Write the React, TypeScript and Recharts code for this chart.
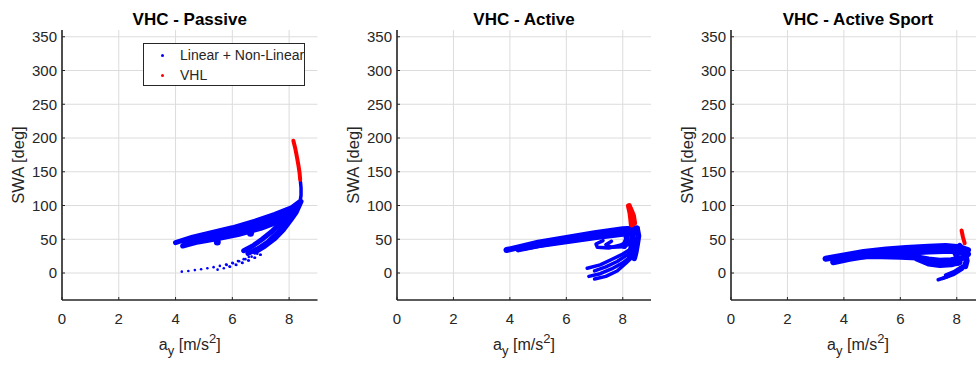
import React from "react";
import {
  ScatterChart,
  Scatter,
  XAxis,
  YAxis,
  CartesianGrid,
  Legend,
  Label,
} from "recharts";

type Pt = [number, number];

const xTicks = [0, 2, 4, 6, 8];
const yTicks = [0, 50, 100, 150, 200, 250, 300, 350];
const xDomain: [number, number] = [0, 9];
const yDomain: [number, number] = [-40, 360];
const titles = ["VHC - Passive", "VHC - Active", "VHC - Active Sport"];
const legendLabels = ["Linear + Non-Linear", "VHL"];

// VHC - Passive
const passiveBand: Pt[][] = [
  [[4.0, 45], [4.6, 53], [5.3, 60], [6.0, 67], [6.8, 77], [7.5, 87], [8.1, 97], [8.35, 105]],
  [[4.25, 40], [4.8, 46], [5.5, 51], [6.2, 57], [7.0, 66], [7.7, 77], [8.2, 92], [8.35, 102]],
  [[4.3, 44], [5.0, 51], [5.8, 57], [6.5, 63], [7.2, 72], [7.9, 84], [8.3, 98]],
  [[4.6, 49], [5.4, 56], [6.2, 64], [6.9, 73], [7.6, 83], [8.1, 93], [8.35, 104]],
  [[8.42, 106], [8.25, 90], [8.05, 78], [7.8, 64], [7.5, 51], [7.15, 40], [6.8, 31]],
  [[8.35, 102], [8.1, 86], [7.85, 72], [7.55, 58], [7.25, 46], [6.9, 36], [6.55, 29]],
  [[8.3, 100], [8.0, 86], [7.7, 74], [7.38, 61], [7.05, 50], [6.75, 41], [6.4, 33]],
];
const passiveThin: Pt[][] = [
  [[8.38, 104], [8.42, 115], [8.42, 126], [8.4, 135]],
];
const passiveDots: Pt[][] = [
  [[4.22, 2], [4.45, 3], [4.68, 4.3], [4.9, 5.6], [5.12, 7], [5.34, 8.7], [5.56, 10.5], [5.78, 12.6], [6.0, 15], [6.2, 17.6], [6.4, 20.5], [6.58, 23.6]],
  [[5.48, 5], [5.7, 7], [5.92, 9.3], [6.14, 12], [6.36, 15], [6.58, 18.5], [6.8, 22.5], [7.0, 27]],
  [[5.8, 12], [6.02, 14.5], [6.24, 17.3], [6.46, 20.5], [6.68, 24.2], [6.88, 28.5]],
  [[5.9, 9.5], [6.12, 12.2], [6.34, 15.2], [6.56, 18.6], [6.78, 22.6], [6.98, 27]],
];
const passiveBlobs: Pt[] = [[5.47, 46], [6.64, 59]];
const passiveRed: Pt[][] = [
  [[8.15, 196], [8.22, 184], [8.28, 171], [8.33, 159], [8.37, 148], [8.39, 138]],
];

// VHC - Active
const activeBand: Pt[][] = [
  [[3.88, 34], [4.3, 38], [5.0, 45], [6.0, 52], [7.0, 59], [8.0, 65], [8.5, 66]],
  [[4.3, 35], [5.0, 41], [6.0, 47], [7.0, 53], [8.0, 58], [8.5, 60]],
  [[4.45, 37], [5.5, 45], [6.5, 51], [7.5, 57], [8.3, 62]],
  [[8.5, 66], [8.55, 55], [8.5, 42], [8.45, 30], [8.4, 22]],
  [[8.3, 64], [8.35, 50], [8.3, 36], [8.25, 26]],
  [[8.1, 62], [8.15, 50], [8.05, 40]],
];
const activeThin: Pt[][] = [
  [[7.3, 48], [7.05, 43], [7.1, 38], [7.5, 37], [7.9, 41], [8.2, 47]],
  [[7.6, 47], [7.4, 42], [7.6, 38], [8.0, 39], [8.3, 44]],
  [[6.74, 7], [7.2, 12], [7.6, 20], [8.0, 28], [8.3, 36]],
  [[6.8, -5], [7.2, -1], [7.6, 6], [8.0, 15], [8.3, 25]],
  [[7.0, -9], [7.4, -5], [7.8, 3], [8.1, 14], [8.35, 24]],
  [[7.0, 3], [7.4, 9], [7.8, 17], [8.2, 28]],
];
const activeRed: Pt[][] = [
  [[8.22, 99], [8.27, 90], [8.3, 80], [8.32, 72]],
  [[8.26, 95], [8.36, 85], [8.4, 74]],
];

// VHC - Active Sport
const sportBand: Pt[][] = [
  [[3.35, 21], [4.0, 26], [4.7, 31], [5.5, 35], [6.2, 37], [7.0, 39], [7.6, 40], [8.1, 38], [8.4, 34]],
  [[3.62, 16], [4.2, 21], [4.8, 25], [5.5, 28], [6.2, 30], [7.0, 32], [7.8, 33], [8.4, 28]],
  [[4.3, 24], [5.0, 25], [6.0, 24], [6.6, 23], [7.0, 20], [7.4, 18], [7.8, 19], [8.2, 22]],
  [[6.6, 21], [7.0, 14], [7.4, 12], [7.8, 13], [8.1, 16]],
  [[8.1, 40], [8.3, 30], [8.35, 18], [8.3, 10]],
  [[7.9, 35], [8.0, 25], [8.05, 15]],
];
const sportThin: Pt[][] = [
  [[7.34, -10], [7.7, -5], [8.0, 3], [8.3, 12]],
  [[7.6, -3], [7.9, 2], [8.2, 10]],
  [[7.5, -8], [7.9, -2], [8.2, 6]],
];
const sportRed: Pt[][] = [[[8.17, 63], [8.22, 53], [8.28, 44]]];

const BLUE = "#0000ff";
const RED = "#ff0000";
const INK = "#262626";
const GRID = "#dcdcdc";
const FONT = "'Liberation Sans', Arial, sans-serif";
const PLOT_H = 270;
const Y_AXIS_W = 40;
const X_AXIS_H = 30;

const toData = (pts: Pt[]) => pts.map(([x, y]) => ({ x, y }));
const noShape = () => <g />;
const dotShape = (p: any) => <circle cx={p.cx} cy={p.cy} r={1.3} fill={BLUE} />;
const blobShape = (p: any) => <circle cx={p.cx} cy={p.cy} r={3.5} fill={BLUE} />;

// grid only at the tick values (no border lines at the top / right edge)
const hGrid = ({ offset }: any) =>
  yTicks.map((t) => offset.top + ((yDomain[1] - t) / (yDomain[1] - yDomain[0])) * offset.height);
const vGrid = ({ offset }: any) =>
  xTicks.map((t) => offset.left + ((t - xDomain[0]) / (xDomain[1] - xDomain[0])) * offset.width);

const xLabel = (props: any) => {
  const { x, y, width } = props.viewBox;
  return (
    <text x={x + width / 2} y={y + 50} textAnchor="middle" fontSize={16} fill={INK} fontFamily={FONT}>
      a<tspan dy={5} fontSize={13}>y</tspan>
      <tspan dy={-5}> [m/s</tspan>
      <tspan dy={-7} fontSize={13}>2</tspan>
      <tspan dy={7}>]</tspan>
    </text>
  );
};

const titleLabel = (title: string) => (props: any) => {
  const { x, y, width } = props.viewBox;
  return (
    <text x={x + width / 2} y={y - PLOT_H - 5} textAnchor="middle" fontSize={17} fontWeight="bold" fill="#000" fontFamily={FONT}>
      {title}
    </text>
  );
};

const yLabel = (props: any) => {
  const { x, y, width, height } = props.viewBox;
  const cx = x + width - 44;
  const cy = y + height / 2;
  return (
    <text x={cx} y={cy} transform={`rotate(-90 ${cx} ${cy})`} textAnchor="middle" dominantBaseline="central" fontSize={16.5} fill={INK} fontFamily={FONT}>
      SWA [deg]
    </text>
  );
};

const legendColors = [BLUE, RED];
const renderLegend = () => (
  <div
    style={{
      width: 162,
      height: 43,
      border: `1.5px solid ${INK}`,
      background: "#fff",
      boxSizing: "border-box",
      fontFamily: FONT,
      fontSize: 14,
      color: INK,
      position: "relative",
    }}
  >
    {legendLabels.map((l, i) => (
      <div key={l} style={{ position: "absolute", left: 0, top: 1 + i * 20, height: 20, display: "flex", alignItems: "center", whiteSpace: "nowrap" }}>
        <span style={{ width: 3, height: 3, borderRadius: 2, background: legendColors[i], marginLeft: 17, marginRight: 16 }} />
        <span>{l}</span>
      </div>
    ))}
  </div>
);

type PanelProps = {
  title: string;
  left: number;
  width: number;
  ml: number;
  mr: number;
  band: Pt[][];
  bandWidth: number;
  thin: Pt[][];
  dots?: Pt[][];
  blobs?: Pt[];
  red: Pt[][];
  redWidth: number;
  legend?: boolean;
};

function Panel(p: PanelProps) {
  const axisStyle = { fill: INK, fontSize: 15, fontFamily: FONT };
  return (
    <div style={{ position: "absolute", left: p.left, top: 0 }}>
      <ScatterChart
        width={p.width}
        height={365}
        margin={{ top: 30, bottom: 65 - X_AXIS_H, left: p.ml - Y_AXIS_W, right: p.mr }}
      >
        <CartesianGrid
          stroke={GRID}
          strokeWidth={1}
          horizontalCoordinatesGenerator={hGrid}
          verticalCoordinatesGenerator={vGrid}
        />
        <XAxis
          type="number"
          dataKey="x"
          domain={xDomain}
          ticks={xTicks}
          interval={0}
          allowDataOverflow
          height={X_AXIS_H}
          tick={axisStyle}
          tickSize={-3}
          tickMargin={16}
          tickLine={{ stroke: INK }}
          axisLine={{ stroke: INK, strokeWidth: 1.6 }}
        >
          <Label content={xLabel} />
          <Label content={titleLabel(p.title)} />
        </XAxis>
        <YAxis
          type="number"
          dataKey="y"
          domain={yDomain}
          ticks={yTicks}
          interval={0}
          allowDataOverflow
          width={Y_AXIS_W}
          tick={axisStyle}
          tickSize={-3}
          tickMargin={8}
          tickLine={{ stroke: INK }}
          axisLine={{ stroke: INK, strokeWidth: 1.6 }}
        >
          <Label content={yLabel} />
        </YAxis>
        {p.band.map((t, i) => (
          <Scatter
            key={`band${i}`}
            data={toData(t)}
            fill={BLUE}
            line={{ stroke: BLUE, strokeWidth: p.bandWidth, strokeLinecap: "round", strokeLinejoin: "round" }}
            shape={noShape}
            isAnimationActive={false}
          />
        ))}
        {p.thin.map((t, i) => (
          <Scatter
            key={`thin${i}`}
            data={toData(t)}
            fill={BLUE}
            line={{ stroke: BLUE, strokeWidth: 3.5, strokeLinecap: "round", strokeLinejoin: "round" }}
            shape={noShape}
            isAnimationActive={false}
          />
        ))}
        {(p.dots || []).map((t, i) => (
          <Scatter key={`dots${i}`} data={toData(t)} fill={BLUE} shape={dotShape} isAnimationActive={false} />
        ))}
        {p.blobs && <Scatter data={toData(p.blobs)} fill={BLUE} shape={blobShape} isAnimationActive={false} />}
        {p.red.map((t, i) => (
          <Scatter
            key={`red${i}`}
            data={toData(t)}
            fill={RED}
            line={{ stroke: RED, strokeWidth: p.redWidth, strokeLinecap: "round", strokeLinejoin: "round" }}
            shape={noShape}
            isAnimationActive={false}
          />
        ))}
        {p.legend && (
          <Legend
            layout="horizontal"
            verticalAlign="middle"
            align="center"
            content={renderLegend}
            wrapperStyle={{ left: 143, top: 43, width: 162, height: 43 }}
          />
        )}
      </ScatterChart>
    </div>
  );
}

export default function App() {
  return (
    <div style={{ position: "absolute", left: 0, top: 0, width: 976, height: 365, overflow: "hidden", background: "#fff" }}>
      <Panel
        title={titles[0]}
        left={0}
        width={330}
        ml={62}
        mr={12.5}
        band={passiveBand}
        bandWidth={5}
        thin={passiveThin}
        dots={passiveDots}
        blobs={passiveBlobs}
        red={passiveRed}
        redWidth={4}
        legend
      />
      <Panel
        title={titles[1]}
        left={330}
        width={330}
        ml={67}
        mr={9}
        band={activeBand}
        bandWidth={6}
        thin={activeThin}
        red={activeRed}
        redWidth={6}
      />
      <Panel
        title={titles[2]}
        left={660}
        width={340}
        ml={71}
        mr={15}
        band={sportBand}
        bandWidth={6}
        thin={sportThin}
        red={sportRed}
        redWidth={4}
      />
    </div>
  );
}
